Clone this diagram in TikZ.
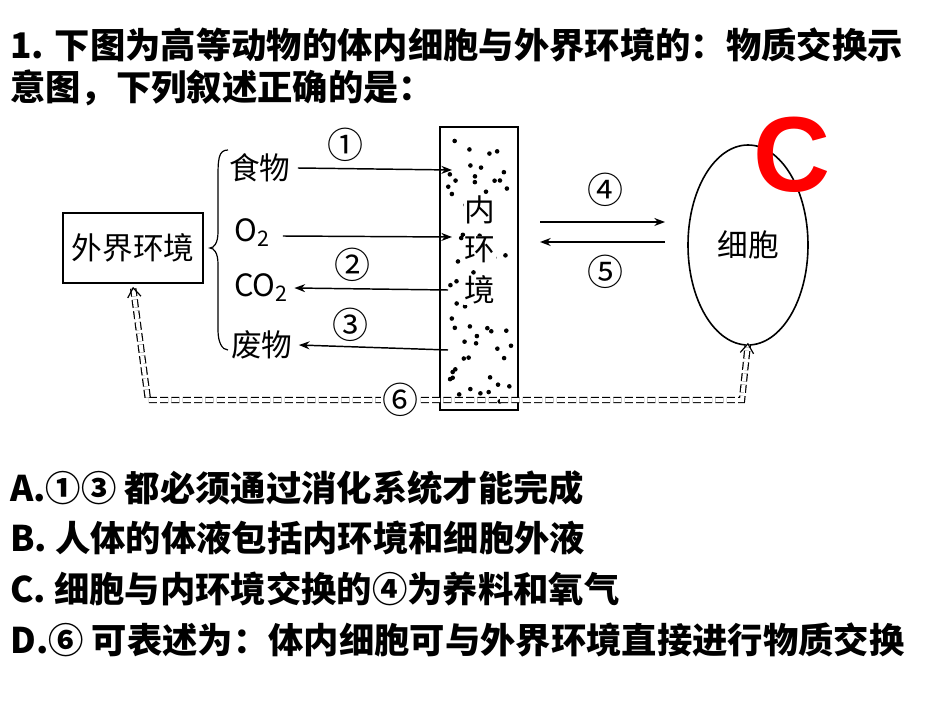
\documentclass[tikz,border=0pt]{standalone}
\usepackage{fontspec}
\newfontfamily\cjk{Noto Sans CJK SC}
\newfontfamily\ansfont{Liberation Sans}
\usetikzlibrary{arrows.meta,positioning,shapes.geometric}
\tikzset{
  qtext/.style={anchor=west,inner sep=0pt,font=\cjk\bfseries\fontsize{26.5}{26.5}\selectfont},
  lab/.style={inner sep=0.75pt,font=\cjk\fontsize{23}{23}\selectfont},
  num/.style={inner sep=0.75pt,font=\cjk\fontsize{27}{27}\selectfont},
  flow/.style={-{Stealth[length=8pt,width=6pt]},line width=1.1pt},
  link/.style={draw=black,double=white,double distance=3pt,dash pattern=on 6pt off 2.5pt,line width=0.9pt,
    {Straight Barb[length=7pt,width=10pt]}-{Straight Barb[length=7pt,width=10pt]}}
}
\begin{document}
\begin{tikzpicture}[x=0.75pt,y=0.75pt,yscale=-1]
\useasboundingbox (0,0) rectangle (950,713);

% question
\node[qtext] (q1) at (10,45) {1. 下图为高等动物的体内细胞与外界环境的：物质交换示};
\node[qtext] (q2) at (10,88) {意图，下列叙述正确的是：};

% outer environment and its branches
\node[draw,line width=1.2pt,minimum width=140pt*0.75,minimum height=70pt*0.75,lab] (env) at (133,248) {外界环境};
\draw[line width=0.9pt] (228,150) .. controls (218,150) and (218,160) .. (218,180) -- (218,232)
  .. controls (218,243) and (214,248) .. (210,248) .. controls (214,248) and (218,253) .. (218,264)
  -- (218,330) .. controls (218,342) and (222,350) .. (228,350);
\node[lab,anchor=west] (food) at (228,168) {食物};
\node[lab,anchor=west] (o2) at (233,233) {O\textsubscript{2}};
\node[lab,anchor=west] (co2) at (233,288) {CO\textsubscript{2}};
\node[lab,anchor=west] (waste) at (230,345) {废物};

% inner environment
\draw[line width=1.2pt] (440,127) rectangle (518,410);
\pgfmathsetseed{7}
\foreach \i in {1,...,60}{
  \pgfmathsetmacro{\dx}{448+64*rnd}
  \pgfmathsetmacro{\dy}{136+266*rnd}
  \fill (\dx,\dy) circle (2.3);
}
\node[lab,fill=white] (nei) at (480,210) {内};
\node[lab,fill=white] (huan) at (480,250) {环};
\node[lab,fill=white] (jing) at (480,290) {境};
\coordinate (inA) at (452,170);
\coordinate (inB) at (452,237);
\coordinate (inC) at (448,290);
\coordinate (inD) at (448,350);

\draw[flow] (food.east) ++(6,0) -- (inA);
\draw[flow] (o2.east) ++(12,3) -- (inB);
\draw[flow] (inC) -- ([xshift=5pt*0.75]co2.east);
\draw[flow] (inD) -- ([xshift=5pt*0.75]waste.east);
\node[num] (n1) at (345,145) {①};
\node[num] (n2) at (352,265) {②};
\node[num] (n3) at (350,325) {③};

% cell
\node[draw,ellipse,line width=1.2pt,minimum width=120pt*0.75,minimum height=200pt*0.75,lab] (cell) at (748,245) {细胞};
\coordinate (l4) at (540,222);
\coordinate (r4) at (665,222);
\coordinate (l5) at (540,242);
\coordinate (r5) at (665,242);
\draw[flow] (l4) -- (r4);
\draw[flow] (r5) -- (l5);
\node[num] (n4) at (605,190) {④};
\node[num] (n5) at (605,272) {⑤};

% direct exchange
\coordinate (c1) at (148,400);
\coordinate (c2) at (742,400);
\draw[link] (env.south) ++(0,3) -- (c1) -- (c2) -- ([yshift=-3pt*0.75]cell.south);
\node[num,fill=white] (n6) at (400,400) {⑥};

% answer
\node[text=red,font=\ansfont\bfseries\fontsize{80}{80}\selectfont] (ans) at (792,155) {C};

% options
\node[qtext] (oa) at (10,488) {A.①③ 都必须通过消化系统才能完成};
\node[qtext] (ob) at (10,538) {B. 人体的体液包括内环境和细胞外液};
\node[qtext] (oc) at (10,589) {C. 细胞与内环境交换的④为养料和氧气};
\node[qtext] (od) at (10,640) {D.⑥ 可表述为：体内细胞可与外界环境直接进行物质交换};
\end{tikzpicture}
\end{document}
